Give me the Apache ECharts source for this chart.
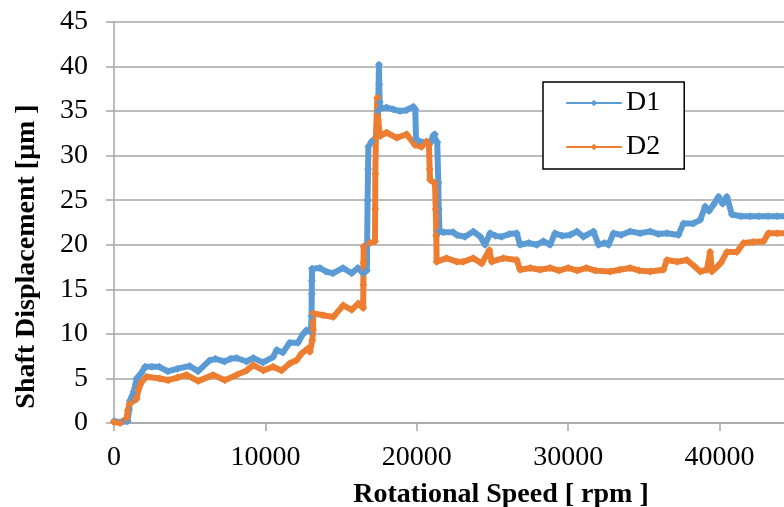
<!DOCTYPE html>
<html>
<head>
<meta charset="utf-8">
<script src="https://cdn.jsdelivr.net/npm/echarts@6/dist/echarts.min.js"></script>
<style>html,body{margin:0;padding:0;background:#fff}#c{width:784px;height:507px}</style>
</head>
<body>
<div id="c"></div>
<script>
var seriesNames = ['D1', 'D2'];
var xTicks = [0, 10000, 20000, 30000, 40000];
var yTicks = [0, 5, 10, 15, 20, 25, 30, 35, 40, 45];

var d1Rpm = [0, 500, 900, 1000, 1050, 1300, 1500, 1800, 2050, 2500, 3000, 3550, 4200, 5000, 5550, 6300, 6700, 7300, 7700, 8100, 8750, 9200, 9850, 10500, 10750, 11150, 11600, 12150, 12450, 12700, 13000, 13050, 13060, 13070, 13080, 13600, 14000, 14460, 15120, 15700, 16110, 16450, 16700, 16720, 16750, 16780, 16800, 17020, 17300, 17450, 17500, 17520, 17550, 17580, 18010, 18450, 18890, 19300, 19770, 19900, 19950, 20210, 20870, 21100, 21200, 21350, 21420, 21450, 21500, 21750, 22410, 22640, 23180, 23730, 24200, 24500, 24840, 25200, 25610, 26100, 26600, 26820, 27400, 27920, 28360, 28800, 29130, 29600, 30120, 30570, 31000, 31670, 32000, 32400, 32660, 32990, 33500, 34090, 34750, 35410, 35950, 36520, 37280, 37610, 38270, 38720, 39050, 39300, 39600, 39930, 40200, 40480, 40810, 41400, 42020, 42600, 43200, 43800, 44300];
var d1Values = [0.2, 0.1, 0.2, 1.5, 2.5, 3.5, 5.0, 5.6, 6.3, 6.3, 6.3, 5.8, 6.1, 6.4, 5.8, 7.0, 7.2, 6.9, 7.2, 7.3, 6.9, 7.3, 6.8, 7.4, 8.2, 7.9, 9.0, 9.0, 9.9, 10.4, 10.3, 12.0, 14.5, 16.0, 17.3, 17.4, 17.0, 16.8, 17.4, 16.8, 17.4, 16.8, 17.1, 20.0, 25.0, 28.5, 31.0, 31.6, 32.0, 35.0, 40.2, 38.0, 36.0, 35.3, 35.4, 35.2, 35.0, 35.1, 35.5, 35.2, 31.8, 31.6, 31.4, 32.3, 32.4, 31.5, 27.0, 24.0, 21.5, 21.4, 21.4, 21.1, 20.9, 21.5, 20.9, 20.0, 21.3, 21.0, 20.9, 21.2, 21.3, 20.0, 20.2, 20.0, 20.4, 20.0, 21.3, 21.0, 21.1, 21.5, 20.9, 21.5, 20.0, 20.2, 20.0, 21.3, 21.1, 21.5, 21.3, 21.5, 21.2, 21.3, 21.1, 22.4, 22.4, 22.8, 24.3, 23.8, 24.5, 25.4, 24.6, 25.4, 23.4, 23.2, 23.2, 23.2, 23.2, 23.2, 23.2];

var d2Rpm = [0, 400, 830, 910, 1040, 1490, 1600, 1820, 2150, 3030, 3580, 4200, 4790, 5560, 6550, 7320, 8100, 8760, 9190, 9860, 10510, 11070, 11620, 12060, 12390, 12830, 12940, 13100, 13150, 13160, 13820, 14480, 15140, 15700, 16130, 16460, 16470, 16480, 16490, 16900, 17240, 17250, 17260, 17300, 17390, 17450, 17570, 18010, 18670, 19330, 19880, 20320, 20650, 20800, 20850, 20870, 21200, 21250, 21290, 21310, 21970, 22640, 23070, 23730, 24290, 24790, 24950, 25720, 26600, 26820, 27500, 28140, 28800, 29400, 30000, 30600, 31200, 31800, 32770, 33400, 34090, 34700, 35410, 36290, 36520, 37200, 37840, 38390, 38720, 39160, 39380, 39490, 39820, 40100, 40480, 41140, 41580, 42200, 42900, 43230, 43800, 44300];
var d2Values = [0.1, 0.0, 0.5, 1.4, 2.2, 2.7, 3.7, 4.6, 5.2, 5.0, 4.8, 5.1, 5.4, 4.7, 5.4, 4.8, 5.4, 5.9, 6.5, 5.9, 6.3, 5.9, 6.7, 7.05, 7.8, 8.4, 8.0, 9.3, 10.5, 12.3, 12.1, 11.9, 13.2, 12.7, 13.4, 12.9, 15.5, 18.0, 19.8, 20.2, 20.4, 24.0, 28.0, 32.0, 36.5, 34.0, 32.2, 32.6, 32.0, 32.4, 31.2, 31.0, 31.6, 31.2, 28.5, 27.3, 26.9, 24.0, 21.0, 18.1, 18.5, 18.1, 18.1, 18.5, 17.9, 19.4, 18.1, 18.5, 18.3, 17.2, 17.4, 17.2, 17.4, 17.1, 17.4, 17.1, 17.4, 17.1, 17.0, 17.2, 17.4, 17.1, 17.0, 17.2, 18.3, 18.1, 18.3, 17.5, 17.0, 17.2, 19.2, 17.0, 17.5, 18.0, 19.2, 19.2, 20.2, 20.3, 20.4, 21.3, 21.3, 21.3];

function pairs(xs, ys) { return xs.map(function (x, i) { return [x, ys[i]]; }); }

var FONT = '"Liberation Serif", "Times New Roman", serif';
var GRID = '#A6A6A6';
var chart = echarts.init(document.getElementById('c'), null, { renderer: 'canvas' });
chart.setOption({
  animation: false,
  backgroundColor: '#ffffff',
  grid: { left: 114, right: -87, top: 22, bottom: 84, containLabel: false, outerBoundsMode: 'none' },
  legend: {
    orient: 'vertical',
    left: 543, top: 82,
    padding: [6, 24, 7, 23],
    itemGap: 14,
    itemWidth: 54, itemHeight: 8,
    borderColor: '#000', borderWidth: 1.5,
    backgroundColor: '#fff',
    textStyle: { fontFamily: FONT, fontSize: 28, color: '#000', lineHeight: 30 },
    data: seriesNames
  },
  xAxis: {
    type: 'value', min: xTicks[0], max: 50000, interval: 10000,
    name: 'Rotational Speed [ rpm ]', nameLocation: 'middle', nameGap: 58,
    nameTextStyle: { fontFamily: FONT, fontSize: 28, fontWeight: 'bold', color: '#000', padding: [0, 0, 0, 17] },
    axisLine: { show: true, lineStyle: { color: GRID, width: 1.5 } },
    axisTick: { show: true, length: 8, lineStyle: { color: GRID, width: 1.5 } },
    axisLabel: { fontFamily: FONT, fontSize: 28, color: '#000', margin: 21,
      formatter: function (v) { return String(v); } },
    splitLine: { show: false }
  },
  yAxis: {
    type: 'value', min: yTicks[0], max: yTicks[yTicks.length - 1], interval: 5,
    name: 'Shaft Displacement [μm ]', nameLocation: 'middle', nameGap: 73, nameRotate: 90,
    nameTextStyle: { fontFamily: FONT, fontSize: 28, fontWeight: 'bold', color: '#000', padding: [0, 68, 0, 0] },
    axisLine: { show: true, lineStyle: { color: GRID, width: 1.5 } },
    axisTick: { show: true, length: 8, lineStyle: { color: GRID, width: 1.5 } },
    axisLabel: { fontFamily: FONT, fontSize: 28, color: '#000', margin: 26 },
    splitLine: { show: true, lineStyle: { color: GRID, width: 1.5 } }
  },
  series: [
    {
      name: seriesNames[0], type: 'line', data: pairs(d1Rpm, d1Values),
      color: '#5B9BD5', symbol: 'diamond', symbolSize: 8, showAllSymbol: true,
      lineStyle: { width: 6, color: '#5B9BD5', join: 'round', cap: 'round' }, itemStyle: { color: '#5B9BD5' }
    },
    {
      name: seriesNames[1], type: 'line', data: pairs(d2Rpm, d2Values),
      color: '#ED7D31', symbol: 'diamond', symbolSize: 8, showAllSymbol: true,
      lineStyle: { width: 6, color: '#ED7D31', join: 'round', cap: 'round' }, itemStyle: { color: '#ED7D31' }
    }
  ]
});
</script>
</body>
</html>
